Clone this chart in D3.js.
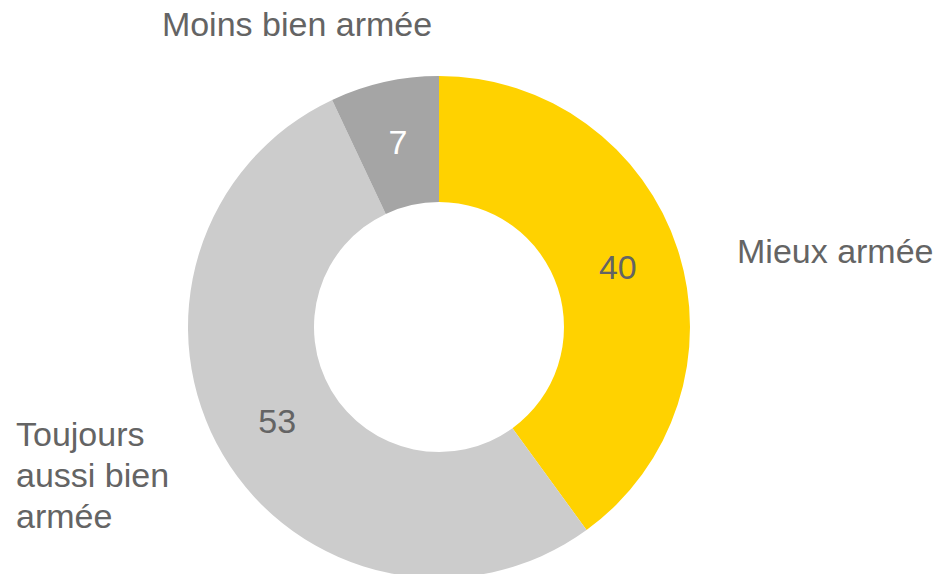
<!DOCTYPE html>
<html>
<head>
<meta charset="utf-8">
<script src="https://cdn.jsdelivr.net/npm/d3@7"></script>
<style>
  html, body { margin: 0; padding: 0; background: #fff; }
  svg { display: block; font-family: "Liberation Sans", Arial, sans-serif; }
</style>
</head>
<body>
<div id="chart"></div>
<script>
// Data
const categories = ["Mieux armée", "Toujours aussi bien armée", "Moins bien armée"];
const values = [40, 53, 7];
const colors = ["#FFD200", "#CCCCCC", "#A5A5A5"];
const valueColors = ["#646464", "#646464", "#FFFFFF"];

const width = 938;
const height = 574;
const cx = 439, cy = 327;
const outerR = 251, innerR = 125;

const svg = d3.select("#chart").append("svg")
    .attr("width", width)
    .attr("height", height);

const g = svg.append("g").attr("transform", `translate(${cx},${cy})`);

const pie = d3.pie().sort(null).value(d => d.value);
const arc = d3.arc().innerRadius(innerR).outerRadius(outerR);

const arcs = pie(categories.map((c, i) => ({ name: c, value: values[i], i })));

g.selectAll("path")
  .data(arcs)
  .join("path")
    .attr("d", arc)
    .attr("fill", d => colors[d.data.i]);

// value labels at centroids
g.selectAll("text.value")
  .data(arcs)
  .join("text")
    .attr("class", "value")
    .attr("transform", d => `translate(${arc.centroid(d)})`)
    .attr("text-anchor", "middle")
    .attr("dy", "0.3em")
    .style("font-size", "34px")
    .attr("fill", d => valueColors[d.data.i])
    .text(d => d.data.value);

// category labels (placed outside the ring, as in the original)
const labelLayout = [
  { x: 737, y: 263, anchor: "start", lines: ["Mieux armée"] },
  { x: 16, y: 446, anchor: "start", lines: ["Toujours", "aussi bien", "armée"] },
  { x: 297, y: 36, anchor: "middle", lines: ["Moins bien armée"] }
];

const cat = svg.append("g")
  .selectAll("text")
  .data(labelLayout)
  .join("text")
    .attr("x", d => d.x)
    .attr("y", d => d.y)
    .attr("text-anchor", d => d.anchor)
    .style("font-size", "34px")
    .attr("fill", "#646464");

cat.selectAll("tspan")
  .data(d => d.lines.map(l => ({ l, x: d.x })))
  .join("tspan")
    .attr("x", d => d.x)
    .attr("dy", (d, i) => i === 0 ? 0 : 41)
    .text(d => d.l);
</script>
</body>
</html>
